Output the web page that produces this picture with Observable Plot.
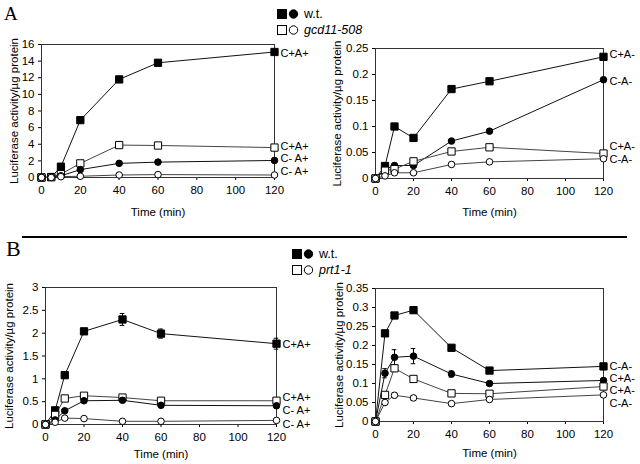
<!DOCTYPE html>
<html><head><meta charset="utf-8">
<script src="https://cdn.jsdelivr.net/npm/d3@7"></script>
<script src="https://cdn.jsdelivr.net/npm/@observablehq/plot@0.6"></script>
<style>
body{margin:0;background:#fff;}
#root{position:relative;width:640px;height:464px;overflow:hidden;font-family:"Liberation Sans",Arial,sans-serif;color:#000;}
.panel{position:absolute;}
.letter{position:absolute;font-family:"Liberation Serif","Times New Roman",serif;line-height:1;}
.legrow{position:absolute;display:flex;align-items:center;height:14px;font-size:12.5px;}
.legrow svg{margin-right:5px;}
.sep{position:absolute;left:22px;top:236px;width:605px;height:2px;background:#000;}
</style></head><body><div id="root"></div>
<script>
// ---- data ----
const time = [0, 5, 10, 20, 40, 60, 120];
const xTicks = [0, 20, 40, 60, 80, 100, 120];

// Panel A (gcd11-508), left: C+A+ / C-A+
const aLeftWtSq  = [0, 0.05, 1.3, 6.9, 11.8, 13.8, 15.1];
const aLeftMutSq = [0, 0.05, 0.4, 1.7, 3.9, 3.85, 3.6];
const aLeftWtCi  = [0, 0.05, 0.2, 0.95, 1.7, 1.85, 2.05];
const aLeftMutCi = [0, 0, 0.1, 0.15, 0.3, 0.35, 0.3];
const aLeftLabels = ["C+A+", "C+A+", "C- A+", "C- A+"];
const aLeftYTicks = [0, 2, 4, 6, 8, 10, 12, 14, 16];

// Panel A, right: C+A- / C-A-
const aRightWtSq  = [0, 0.024, 0.100, 0.078, 0.172, 0.187, 0.234];
const aRightWtCi  = [0, 0.018, 0.025, 0.025, 0.072, 0.091, 0.190];
const aRightMutSq = [0, 0.015, 0.018, 0.033, 0.052, 0.060, 0.048];
const aRightMutCi = [0, 0.005, 0.011, 0.011, 0.027, 0.032, 0.038];
const aRightLabels = ["C+A-", "C-A-", "C+A-", "C-A-"];
const aRightYTicks = [0, 0.05, 0.1, 0.15, 0.2, 0.25];

// Panel B (prt1-1), left: C+A+ / C-A+
const bLeftWtSq  = [0, 0.31, 1.08, 2.04, 2.30, 1.99, 1.77];
const bLeftWtSqErr = [0, 0, 0, 0, 0.13, 0.10, 0.12];
const bLeftMutSq = [0, 0.21, 0.57, 0.63, 0.59, 0.52, 0.52];
const bLeftWtCi  = [0, 0.10, 0.30, 0.52, 0.53, 0.42, 0.41];
const bLeftMutCi = [0, 0.05, 0.14, 0.13, 0.07, 0.07, 0.09];
const bLeftLabels = ["C+A+", "C+A+", "C- A+", "C- A+"];
const bLeftYTicks = [0, 0.5, 1, 1.5, 2, 2.5, 3];

// Panel B, right: C+A- / C-A-
const bRightWtSq  = [0, 0.232, 0.279, 0.293, 0.194, 0.134, 0.145];
const bRightWtCi  = [0, 0.127, 0.169, 0.172, 0.125, 0.100, 0.108];
const bRightWtCiErr = [0, 0.012, 0.020, 0.020, 0.008, 0.005, 0.005];
const bRightMutSq = [0, 0.070, 0.140, 0.112, 0.074, 0.073, 0.092];
const bRightMutCi = [0, 0.050, 0.069, 0.062, 0.047, 0.058, 0.070];
const bRightMutCiErr = [0, 0.005, 0.006, 0.006, 0.005, 0.004, 0.005];
const bRightLabels = ["C-A-", "C+A-", "C+A-", "C-A-"];
const bRightYTicks = [0, 0.05, 0.1, 0.15, 0.2, 0.25, 0.3, 0.35];

const legendA = ["w.t.", "gcd11-508"];
const legendB = ["w.t.", "prt1-1"];
const yTitle = "Luciferase activity/\u00b5g protein";
const xTitle = "Time (min)";

// ---- drawing ----
const root = document.getElementById("root");
const kinds = {
  wtSq:  {symbol: "square", fill: "black", line: "#111", r: 4.1},
  mutSq: {symbol: "square", fill: "white", line: "#444", r: 4.1},
  wtCi:  {symbol: "circle", fill: "black", line: "#111", r: 3.3},
  mutCi: {symbol: "circle", fill: "white", line: "#444", r: 3.3}
};

function panel(o) {
  const lines = [], dots = [], errs = [], labels = [];
  o.series.forEach((s, k) => {
    const st = kinds[s.kind];
    const rows = time.map((t, i) => ({t, v: s.values[i], e: s.err ? s.err[i] : 0}));
    lines.push(Plot.line(rows, {x: "t", y: "v", stroke: st.line, strokeWidth: 1}));
    if (s.err) {
      const er = rows.filter(d => d.e > 0);
      errs.push(Plot.ruleX(er, {x: "t", y1: d => d.v - d.e, y2: d => d.v + d.e, stroke: "#000", strokeWidth: 1}));
      errs.push(Plot.ruleY(er, {x1: d => d.t - 1.2, x2: d => d.t + 1.2, y: d => d.v - d.e, stroke: "#000", strokeWidth: 1}));
      errs.push(Plot.ruleY(er, {x1: d => d.t - 1.2, x2: d => d.t + 1.2, y: d => d.v + d.e, stroke: "#000", strokeWidth: 1}));
    }
    dots.push(Plot.dot(rows, {x: "t", y: "v", symbol: st.symbol, r: st.r, fill: st.fill, stroke: "#000", strokeWidth: 1}));
    labels.push(Plot.text([rows[rows.length - 1]], {x: "t", y: "v", text: () => o.labels[k], textAnchor: "start", dx: 6, dy: o.labelDy[k], fontSize: 11, fill: "#000"}));
  });
  const svg = Plot.plot({
    width: o.width, height: o.height,
    marginLeft: o.ml, marginRight: o.mr, marginTop: o.mt, marginBottom: o.mb,
    style: {fontFamily: "'Liberation Sans', Arial, sans-serif", fontSize: "11.5px", background: "transparent", color: "#000"},
    x: {domain: [0, 120], ticks: xTicks, tickSize: 3, tickPadding: 5, label: xTitle, labelAnchor: "center", labelOffset: o.xlo, labelArrow: "none"},
    y: {domain: o.yDomain, ticks: o.yTicks, tickSize: 3, tickPadding: 4, tickFormat: d3.format("~g"), label: yTitle, labelAnchor: "center", labelOffset: o.ylo, labelArrow: "none"},
    marks: [
      Plot.frame({stroke: "#333", strokeWidth: 1}),
      ...lines, ...errs, ...dots, ...labels
    ]
  });
  const div = document.createElement("div");
  div.className = "panel";
  div.style.left = o.left + "px"; div.style.top = o.top + "px";
  div.appendChild(svg);
  root.appendChild(div);
}

panel({left: 0, top: 0, width: 320, height: 230, ml: 41, mr: 46, mt: 44, mb: 53, xlo: 38, ylo: 32,
  yDomain: [0, 16], yTicks: aLeftYTicks, labels: aLeftLabels, labelDy: [1, -1.5, -2, -4],
  series: [{kind: "wtSq", values: aLeftWtSq}, {kind: "mutSq", values: aLeftMutSq}, {kind: "wtCi", values: aLeftWtCi}, {kind: "mutCi", values: aLeftMutCi}]});

panel({left: 320, top: 0, width: 320, height: 230, ml: 55, mr: 37, mt: 48, mb: 52, xlo: 37, ylo: 43,
  yDomain: [0, 0.25], yTicks: aRightYTicks, labels: aRightLabels, labelDy: [-2, 2, -7, 0.5],
  series: [{kind: "wtSq", values: aRightWtSq}, {kind: "wtCi", values: aRightWtCi}, {kind: "mutSq", values: aRightMutSq}, {kind: "mutCi", values: aRightMutCi}]});

panel({left: 0, top: 240, width: 320, height: 224, ml: 45, mr: 44, mt: 47, mb: 40, xlo: 33, ylo: 41,
  yDomain: [0, 3], yTicks: bLeftYTicks, labels: bLeftLabels, labelDy: [1, -3, 5, 4],
  series: [{kind: "wtSq", values: bLeftWtSq, err: bLeftWtSqErr}, {kind: "mutSq", values: bLeftMutSq}, {kind: "wtCi", values: bLeftWtCi}, {kind: "mutCi", values: bLeftMutCi}]});

panel({left: 320, top: 240, width: 320, height: 224, ml: 55, mr: 37, mt: 48, mb: 43, xlo: 35, ylo: 41,
  yDomain: [0, 0.35], yTicks: bRightYTicks, labels: bRightLabels, labelDy: [0, -2, 4, 9],
  series: [{kind: "wtSq", values: bRightWtSq}, {kind: "wtCi", values: bRightWtCi, err: bRightWtCiErr}, {kind: "mutSq", values: bRightMutSq}, {kind: "mutCi", values: bRightMutCi, err: bRightMutCiErr}]});

// separator
const sep = document.createElement("div"); sep.className = "sep"; root.appendChild(sep);

// panel letters
function letter(t, left, top, size) {
  const d = document.createElement("div"); d.className = "letter";
  d.style.left = left + "px"; d.style.top = top + "px"; d.style.fontSize = size + "px";
  d.textContent = t; root.appendChild(d);
}
letter("A", 4, 4, 19);
letter("B", 6, 238, 22);

// legends
function legend(names, left, top) {
  names.forEach((name, i) => {
    const row = document.createElement("div"); row.className = "legrow";
    row.style.left = left + "px"; row.style.top = (top + i * 15.5) + "px";
    const filled = i === 0;
    row.innerHTML = `<svg width="22" height="12"><rect x="0.5" y="1.5" width="9" height="9" fill="${filled ? "#000" : "#fff"}" stroke="#000"/><circle cx="16.5" cy="6" r="4.2" fill="${filled ? "#000" : "#fff"}" stroke="#000"/></svg>`;
    const sp = document.createElement("span"); sp.textContent = name;
    if (i === 1) sp.style.fontStyle = "italic";
    row.appendChild(sp);
    root.appendChild(row);
  });
}
legend(legendA, 277, 7);
legend(legendB, 292, 247);
</script></body></html>
